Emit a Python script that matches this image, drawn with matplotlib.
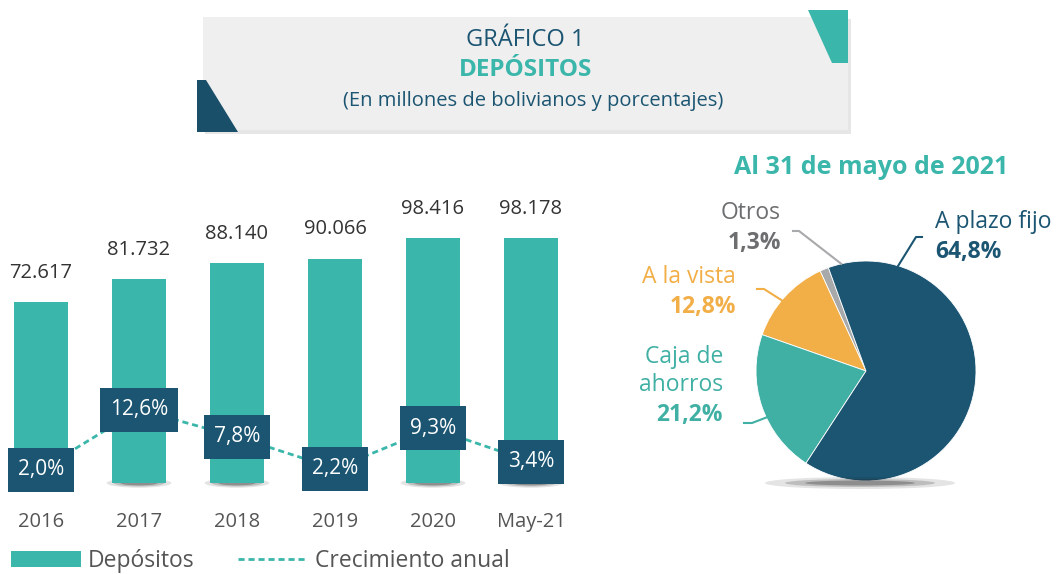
import numpy as np
import matplotlib
matplotlib.use("Agg")
import matplotlib.pyplot as plt
from matplotlib.patches import Rectangle, Polygon, Ellipse
from matplotlib.lines import Line2D
from matplotlib.transforms import IdentityTransform

plt.rcParams['font.family'] = ['Open Sans', 'DejaVu Sans']

# Datos del gráfico de barras
anios = ['2016', '2017', '2018', '2019', '2020', 'May-21']
depositos = [72617, 81732, 88140, 90066, 98416, 98178]
crecimiento = [2.0, 12.6, 7.8, 2.2, 9.3, 3.4]

# Datos del gráfico de torta (orden de dibujo)
tipos = ['Otros', 'A la vista', 'Caja de\nahorros', 'A plazo fijo']
participacion = [1.3, 12.8, 21.2, 64.8]

TEAL = '#3bb6aa'
AZUL = '#1b5572'
NARANJA = '#f2ae47'
GRIS = '#a8a9ab'
colores_torta = [GRIS, NARANJA, '#40b0a4', AZUL]
colores_texto = ['#6d6e70', NARANJA, '#40b0a4', AZUL]

W, H = 1059, 574


def fx(x):
    return x / W


def fy(y):
    return 1 - y / H


fig = plt.figure(figsize=(W / 100, H / 100), dpi=100)

# ---- Recuadro del título ----
fig.patches.append(Rectangle((fx(205), fy(134)), (851 - 205) / W, (134 - 19) / H,
                             transform=fig.transFigure, fc='#e6e6e6', ec='none', zorder=0))
fig.patches.append(Rectangle((fx(203), fy(130)), (848 - 203) / W, (130 - 17) / H,
                             transform=fig.transFigure, fc='#efefef', ec='none', zorder=1))
fig.patches.append(Polygon([(fx(808), fy(10)), (fx(848), fy(10)), (fx(848), fy(63)), (fx(832), fy(63))],
                           closed=True, transform=fig.transFigure, fc=TEAL, ec='none', zorder=2))
fig.patches.append(Polygon([(fx(197), fy(80)), (fx(206), fy(80)), (fx(238), fy(132)), (fx(197), fy(132))],
                           closed=True, transform=fig.transFigure, fc='#1a4f6a', ec='none', zorder=2))
fig.text(fx(525), fy(40), 'GRÁFICO 1', ha='center', va='center', fontsize=17, color=AZUL)
fig.text(fx(526), fy(70), 'DEPÓSITOS', ha='center', va='center', fontsize=17.5, color=TEAL,
         fontweight='bold')
fig.text(fx(533), fy(101), '(En millones de bolivianos y porcentajes)', ha='center', va='center',
         fontsize=14.5, color=AZUL)

# ---- Barras ----
px_unidad = 0.002491  # pixeles por millon
ax = fig.add_axes([0, fy(483), 575 / W, 333 / H])
x = np.arange(len(anios))
ax.bar(x, depositos, width=0.55, color=TEAL, zorder=2)
for i in x:
    for w, h, a in [(0.66, 3800, 0.12), (0.52, 2800, 0.2), (0.38, 1900, 0.3)]:
        ax.add_patch(Ellipse((i, 0), w, h, fc='#222222', ec='none', alpha=a, zorder=1, clip_on=False))
for i, v in zip(x, depositos):
    ax.annotate(f"{v:,.0f}".replace(',', '.'), (i, v), xytext=(0, 21), textcoords='offset points',
                ha='center', va='center', fontsize=14.5, color='#333333')
ax.set_xlim(-0.418, 5.449)
ax.set_ylim(0, 333 / px_unidad)
ax.set_xticks(x, anios)
ax.tick_params(axis='x', length=0, pad=21, labelsize=14.5, labelcolor='#555555')
ax.set_yticks([])
for s in ax.spines.values():
    s.set_visible(False)

ax2 = ax.twinx()
px_pct = 5.66
ax2.set_ylim(-2 / px_pct, -2 / px_pct + 333 / px_pct)
ax2.plot(x, crecimiento, color=TEAL, lw=2, ls=(0, (2.2, 1.4)), zorder=1)
etiquetas = []
for i, g in zip(x, crecimiento):
    t = ax2.text(i, g, f"{g:.1f}%".replace('.', ','), ha='center', va='center', fontsize=15,
                 color='white', zorder=3)
    etiquetas.append(t)
ax2.set_yticks([])
for s in ax2.spines.values():
    s.set_visible(False)

# Leyenda
handles = [Rectangle((0, 0), 1, 1, fc=TEAL, ec='none'),
           Line2D([], [], color=TEAL, lw=2, ls=(0, (2.2, 1.4)))]
fig.legend(handles, ['Depósitos', 'Crecimiento anual'], loc='center left',
           bbox_to_anchor=(fx(11), fy(561)), ncol=2, frameon=False, fontsize=16.5,
           handlelength=3.05, handleheight=0.75, handletextpad=0.3, columnspacing=1.9,
           borderpad=0, borderaxespad=0, labelcolor='#555555')

# ---- Torta ----
cx, cy, r = 866, 371, 110
axp = fig.add_axes([fx(cx - r), fy(cy + r), 2 * r / W, 2 * r / H])
# sombra
for w, h, a in [(190, 12, 0.12), (150, 8, 0.2), (110, 5, 0.3)]:
    fig.patches.append(Ellipse((fx(cx - 6), fy(cy + r + 2)), w / W, h / H, transform=fig.transFigure,
                               fc='#222222', ec='none', alpha=a, zorder=0))
wedges, _ = axp.pie(participacion, colors=colores_torta, startangle=110, counterclock=True,
                    wedgeprops=dict(ec='white', lw=0.6))
axp.set_xlim(-1, 1)
axp.set_ylim(-1, 1)
axp.set_aspect('equal')

fig.text(fx(871), fy(168), 'Al 31 de mayo de 2021', ha='center', va='center', fontsize=18,
         fontweight='bold', color=TEAL)

# etiquetas con líneas guía: (ángulo en el borde, codo, extremo, centro del texto, alineación)
guias = [
    (103, (799, 231), (793, 231), (781, 213), 'right'),
    (140, (764, 289), (757, 289), (736, 277), 'right'),
    (205, (752, 423), (744, 423), (723, 357), 'right'),
    (73, (916, 237), (922, 237), (935, 222), 'left'),
]
for k, (ang, codo, fin, pos, alin) in enumerate(guias):
    t = np.deg2rad(ang)
    x0, y0 = cx + r * np.cos(t), cy - r * np.sin(t)
    fig.add_artist(Line2D([fx(x0), fx(codo[0]), fx(fin[0])], [fy(y0), fy(codo[1]), fy(fin[1])],
                          transform=fig.transFigure, color=colores_torta[k], lw=1.5))
    for j, linea in enumerate(tipos[k].split('\n')):
        fig.text(fx(pos[0]), fy(pos[1] + 28 * j), linea, ha=alin, va='center', fontsize=16.5,
                 color=colores_texto[k])
    nl = tipos[k].count('\n') + 1
    fig.text(fx(pos[0]), fy(pos[1] + 28 * nl + 2), f"{participacion[k]:.1f}%".replace('.', ','),
             ha=alin, va='center', fontsize=16.5, fontweight='bold', color=colores_texto[k])

# Recuadros de las etiquetas de crecimiento (tamaño fijo en pixeles)
fig.canvas.draw()
ren = fig.canvas.get_renderer()
for t, i, g in zip(etiquetas, x, crecimiento):
    bb = t.get_window_extent(ren)
    px, py = ax2.transData.transform((i, g))
    w = bb.width + 20
    h = 44
    ax2.add_patch(Rectangle((px - w / 2, py - h / 2), w, h, transform=IdentityTransform(),
                            fc=AZUL, ec='none', zorder=2.5, clip_on=False))

fig.savefig('out.png', dpi=100)
